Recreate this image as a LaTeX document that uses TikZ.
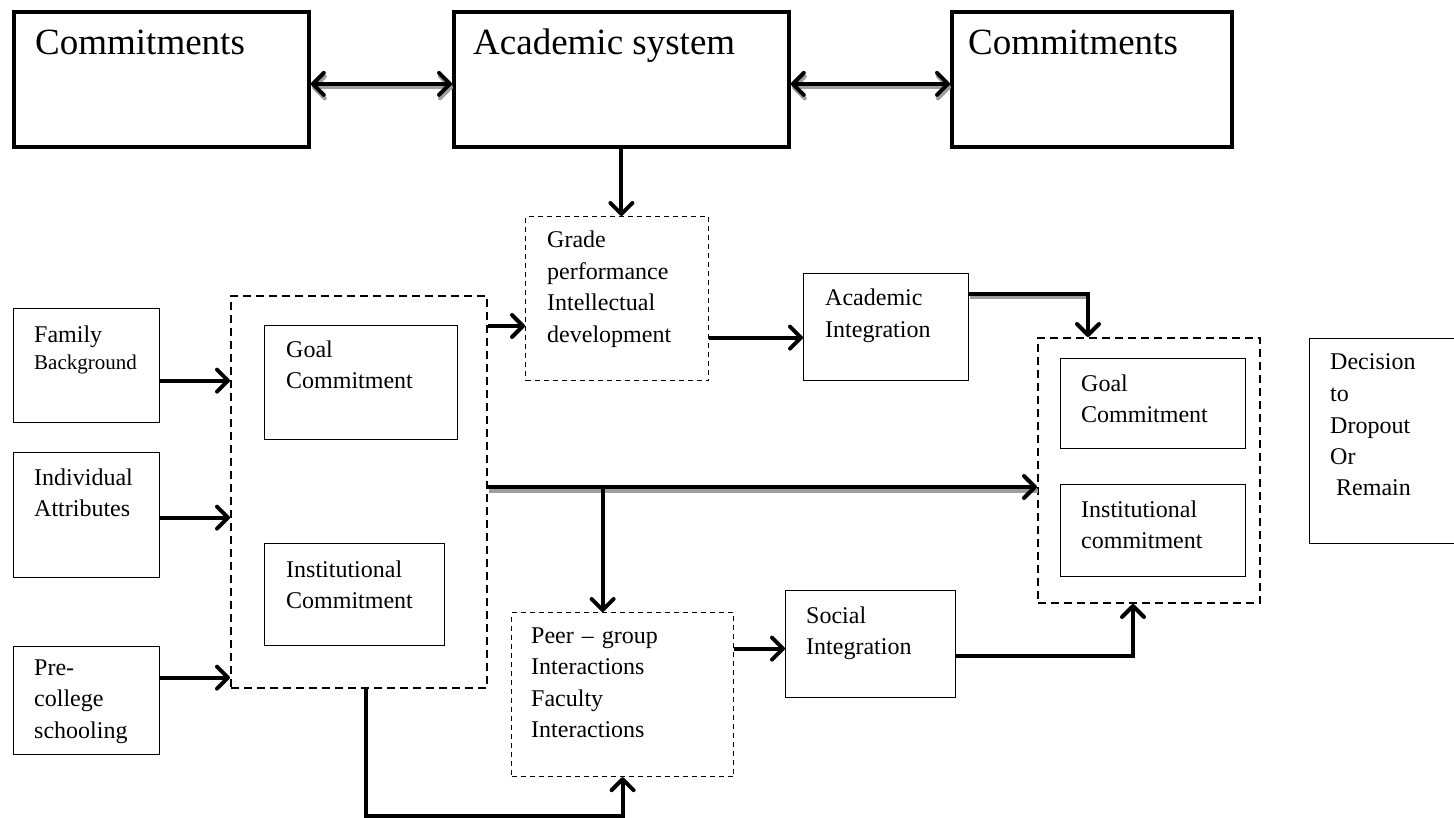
\documentclass[tikz,border=0pt]{standalone}
\usepackage{fontspec}
\setmainfont{Liberation Serif}
\usetikzlibrary{arrows.meta}
\begin{document}
\begin{tikzpicture}[x=1pt,y=-1pt,
  bigbox/.style={draw, line width=3.8pt, anchor=north west, inner sep=0pt},
  box/.style={draw, line width=1.3pt, anchor=north west, inner sep=0pt},
  dbox/.style={draw, line width=2pt, dash pattern=on 8pt off 5pt, anchor=north west, inner sep=0pt},
  fdbox/.style={draw, line width=1.2pt, dash pattern=on 5pt off 4pt, anchor=north west, inner sep=0pt},
  txt/.style={anchor=base west, inner sep=0pt, align=left, text width=220pt, font=\fontsize{24}{31.5}\selectfont},
  bigtxt/.style={anchor=base west, inner sep=0pt, font=\fontsize{37}{44}\selectfont},
  conn/.style={line width=4pt, -{Straight Barb[length=11pt,width=22pt,line width=4pt,round]}},
  dconn/.style={line width=4pt, {Straight Barb[length=11pt,width=22pt,line width=4pt,round]}-{Straight Barb[length=11pt,width=22pt,line width=4pt,round]}},
  shade/.style={draw=black!38, line width=4pt, transform canvas={shift={(1pt,-3.5pt)}}},
]
\useasboundingbox (0,0) rectangle (1454,818);

% top row
\node[bigbox, minimum width=295pt, minimum height=135pt] (cl) at (12,10) {};
\node[bigtxt] (clt) at (35,55) {Commitments};
\node[bigbox, minimum width=335pt, minimum height=135pt] (ac) at (452,10) {};
\node[bigtxt] (act) at (473,55) {Academic system};
\node[bigbox, minimum width=280pt, minimum height=135pt] (cr) at (950,10) {};
\node[bigtxt] (crt) at (968,55) {Commitments};

% left inputs
\node[box, minimum width=146pt, minimum height=114pt] (fam) at (13,308) {};
\node[txt] (famt) at (34,342) {Family\\[-4.5pt]{\fontsize{21}{27}\selectfont Background}};
\node[box, minimum width=146pt, minimum height=125pt] (ind) at (13,452) {};
\node[txt] (indt) at (34,485) {Individual\\Attributes};
\node[box, minimum width=146pt, minimum height=108pt] (pre) at (13,646) {};
\node[txt] (pret) at (34,675) {Pre-\\college\\schooling};

% initial commitments
\node[dbox, minimum width=256pt, minimum height=392pt] (lb) at (230,295) {};
\node[box, minimum width=193pt, minimum height=114pt] (lg) at (264,325) {};
\node[txt] (lgt) at (286,357) {Goal\\Commitment};
\node[box, minimum width=180pt, minimum height=102pt] (li) at (264,543) {};
\node[txt] (lit) at (286,577) {Institutional\\Commitment};

% academic side
\node[fdbox, minimum width=183pt, minimum height=164pt] (gr) at (525,216) {};
\node[txt] (grt) at (547,248) {Grade\\performance\\Intellectual\\development};
\node[box, minimum width=165pt, minimum height=107pt] (ai) at (803,273) {};
\node[txt] (ait) at (825,306) {Academic\\Integration};

% social side
\node[fdbox, minimum width=222pt, minimum height=164pt] (pe) at (511,612) {};
\node[txt] (pet) at (531,643) {Peer – group\\Interactions\\Faculty\\Interactions};
\node[box, minimum width=170pt, minimum height=107pt] (so) at (785,590) {};
\node[txt] (sot) at (806,623) {Social\\Integration};

% later commitments
\node[dbox, minimum width=222pt, minimum height=265pt] (rd) at (1037,337) {};
\node[box, minimum width=185pt, minimum height=90pt] (rg) at (1060,358) {};
\node[txt] (rgt) at (1081,391) {Goal\\Commitment};
\node[box, minimum width=185pt, minimum height=92pt] (ri) at (1060,484) {};
\node[txt] (rit) at (1081,517) {Institutional\\commitment};

% outcome
\node[box, minimum width=150pt, minimum height=205pt] (dec) at (1309,338) {};
\node[txt] (dect) at (1330,370) {Decision\\to\\Dropout\\Or\\\hspace*{6pt}Remain};

% top double arrows
\coordinate (c1) at ([yshift=-4.5pt]cl.east);
\coordinate (c2) at ([yshift=-4.5pt]ac.west);
\coordinate (c3) at ([yshift=-4.5pt]ac.east);
\coordinate (c4) at ([yshift=-4.5pt]cr.west);
\draw[shade, dconn] (c1) -- (c2);
\draw[dconn] (c1) -- (c2);
\draw[shade, dconn] (c3) -- (c4);
\draw[dconn] (c3) -- (c4);

% academic system to grades
\draw[conn] (ac.south) -- (ac.south |- gr.north);

% inputs into initial commitments
\coordinate (f1) at ([yshift=-15pt]fam.east);
\coordinate (f2) at ([yshift=-2.5pt]ind.east);
\coordinate (f3) at ([yshift=23pt]pre.east);
\draw[conn] (f1) -- (f1 -| lb.west);
\draw[conn] (f2) -- (f2 -| lb.west);
\draw[conn] (f3) -- (f3 -| lb.west);

% initial commitments to grades
\coordinate (l1) at ([yshift=166pt]lb.east);
\draw[conn] (l1) -- (l1 -| gr.west);

% grades to academic integration
\coordinate (g1) at ([yshift=-39pt]gr.east);
\draw[conn] (g1) -- (g1 -| ai.west);

% academic integration to later commitments
\coordinate (a1) at ([yshift=33.5pt]ai.east);
\coordinate (rdin) at ([xshift=-61pt]rd.north);
\draw[shade] (a1) -- (a1 -| rdin);
\draw[conn] (a1) -| (rdin);

% long link and branch to peer interactions
\coordinate (lo) at ([yshift=5pt]lb.east);
\coordinate (pin) at ([xshift=-20pt]pe.north);
\draw[shade] (lo) -- (lo -| rd.west);
\draw[conn] (lo) -- (lo -| rd.west);
\draw[conn] (pin |- lo) -- (pin);

% bottom loop into peer interactions
\coordinate (lbo) at ([xshift=7pt]lb.south);
\coordinate (low) at (0,815.5);
\draw[conn] (lbo) -- (lbo |- low) -| (pe.south);

% peer interactions to social integration
\coordinate (p1) at ([yshift=46pt]pe.east);
\draw[conn] (p1) -- (p1 -| so.west);

% social integration to later commitments
\coordinate (s1) at ([yshift=-11.5pt]so.east);
\coordinate (rdb) at ([xshift=-16pt]rd.south);
\draw[conn] (s1) -| (rdb);
\end{tikzpicture}
\end{document}
